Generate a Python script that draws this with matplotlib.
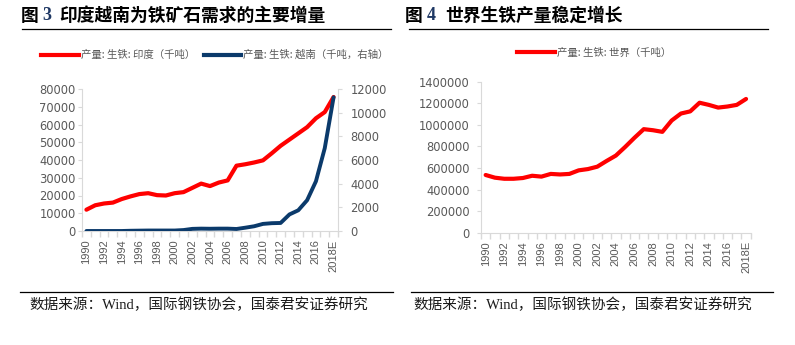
import matplotlib
matplotlib.use('Agg')
import matplotlib.pyplot as plt
from matplotlib.lines import Line2D
from matplotlib.ticker import FuncFormatter
import numpy as np

# ---------------- data ----------------
years = [str(y) for y in range(1990, 2018)] + ['2018E']
india = [12000, 14500, 15500, 16000, 18000, 19500, 20800, 21300, 20200, 20000,
         21300, 21900, 24300, 26700, 25300, 27300, 28500, 36800, 37600, 38600,
         39800, 43800, 48000, 51500, 55000, 58500, 63500, 67000, 75500]
vietnam = [0, 0, 0, 0, 0, 20, 30, 40, 40, 40,
           40, 80, 180, 200, 190, 200, 200, 170, 280, 400,
           600, 660, 680, 1400, 1750, 2600, 4200, 7000, 11300]
world = [535000, 510000, 500000, 500000, 507000, 528000, 520000, 545000, 540000, 545000,
         578000, 590000, 612000, 665000, 715000, 795000, 880000, 960000, 950000, 935000,
         1040000, 1105000, 1125000, 1205000, 1185000, 1160000, 1170000, 1185000, 1240000]

title_left = ['图', '3', '印度越南为铁矿石需求的主要增量']
title_right = ['图', '4', '世界生铁产量稳定增长']
leg_india = '产量: 生铁: 印度（千吨）'
leg_vietnam = '产量: 生铁: 越南（千吨，右轴）'
leg_world = '产量: 生铁: 世界（千吨）'
source = '数据来源：Wind，国际钢铁协会，国泰君安证券研究'

W, H = 795, 345
def fx(px): return px / W
def fy(py): return 1 - py / H

CJK = ['Noto Sans CJK SC', 'DejaVu Sans']
GREY = '#595959'
AXC = '#D9D9D9'
RED = '#FF0000'
NAVY = '#0B3A6B'
plain = FuncFormatter(lambda v, p: f'{int(round(v))}')

fig = plt.figure(figsize=(W / 100, H / 100), dpi=100)
x = np.arange(len(years))

def style_cat_axis(ax, pad):
    ax.set_xlim(-0.5, len(years) - 0.5)
    ax.set_xticks(x[::2])
    ax.set_xticklabels(years[::2], rotation=90, fontsize=8,
                       family='Liberation Sans', color=GREY)
    ax.set_xticks(np.arange(-0.5, len(years)), minor=True)
    ax.tick_params(axis='x', which='major', length=0, pad=pad)
    ax.tick_params(axis='x', which='minor', length=4, color=AXC, width=1)
    for s in ['top', 'right', 'left', 'bottom']:
        ax.spines[s].set_visible(False)
    ax.spines['bottom'].set_visible(True)
    ax.spines['bottom'].set_color(AXC)
    ax.spines['left'].set_visible(True)
    ax.spines['left'].set_color(AXC)

# ---------------- left chart ----------------
ax1 = fig.add_axes([fx(82), fy(231), (338 - 82) / W, (231 - 89) / H])
ax1.plot(x, india, color=RED, lw=3.0, solid_joinstyle='round', solid_capstyle='round', zorder=3)
style_cat_axis(ax1, 6)
ax1.set_ylim(0, 80000)
ax1.set_yticks(range(0, 80001, 10000))
ax1.yaxis.set_major_formatter(plain)
ax1.tick_params(axis='y', length=3, color=AXC, labelcolor=GREY, labelsize=8.3, pad=1.5)
ax1.patch.set_alpha(0)

ax2 = ax1.twinx()
ax2.plot(x, vietnam, color=NAVY, lw=2.8, solid_joinstyle='round', solid_capstyle='round', zorder=3)
ax2.set_ylim(0, 12000)
ax2.set_yticks(range(0, 12001, 2000))
ax2.yaxis.set_major_formatter(plain)
ax2.tick_params(axis='y', length=3, color=AXC, labelcolor=GREY, labelsize=8.3, pad=6)
for s in ['top', 'left', 'bottom']:
    ax2.spines[s].set_visible(False)
ax2.spines['right'].set_color(AXC)

h1 = Line2D([], [], color=RED, lw=3.0)
h2 = Line2D([], [], color=NAVY, lw=3.0)
fig.legend([h1, h2], [leg_india, leg_vietnam], loc='center',
           bbox_to_anchor=(fx(215), fy(55)), ncol=2, frameon=False,
           prop={'family': CJK, 'size': 7.5}, labelcolor=GREY,
           handlelength=3.6, handletextpad=0.2, columnspacing=0.8,
           borderaxespad=0, borderpad=0)

# ---------------- right chart ----------------
ax3 = fig.add_axes([fx(481), fy(232.7), (750.7 - 481) / W, (232.7 - 81.7) / H])
ax3.plot(x, world, color=RED, lw=3.0, solid_joinstyle='round', solid_capstyle='round', zorder=3)
style_cat_axis(ax3, 6)
ax3.set_ylim(0, 1400000)
ax3.set_yticks(range(0, 1400001, 200000))
ax3.yaxis.set_major_formatter(plain)
ax3.tick_params(axis='y', length=3, color=AXC, labelcolor=GREY, labelsize=8.3, pad=5)

h3 = Line2D([], [], color=RED, lw=3.0)
fig.legend([h3], [leg_world], loc='center',
           bbox_to_anchor=(fx(594), fy(52.7)), frameon=False,
           prop={'family': CJK, 'size': 7.5}, labelcolor=GREY,
           handlelength=3.6, handletextpad=0.2,
           borderaxespad=0, borderpad=0)

# ---------------- titles ----------------
def draw_title(parts, xs):
    fig.text(fx(xs[0]), fy(16), parts[0], family=CJK, weight='bold', fontsize=12.8,
             va='center', ha='left', color='black')
    fig.text(fx(xs[1]), fy(16), parts[1], family=['Liberation Serif', 'DejaVu Serif'],
             weight='bold', fontsize=13, va='center', ha='left', color='#1F3864')
    fig.text(fx(xs[2]), fy(16), parts[2], family=CJK, weight='bold', fontsize=12.8,
             va='center', ha='left', color='black')

draw_title(title_left, [21, 42, 59])
draw_title(title_right, [405, 427, 445])

fig.add_artist(Line2D([fx(22), fx(391)], [fy(28.5)] * 2, color='black', lw=0.9))
fig.add_artist(Line2D([fx(409), fx(768)], [fy(28.5)] * 2, color='black', lw=0.9))

# ---------------- sources ----------------
fig.add_artist(Line2D([fx(20), fx(393)], [fy(292)] * 2, color='black', lw=0.9))
fig.add_artist(Line2D([fx(411), fx(773)], [fy(292)] * 2, color='black', lw=0.9))
fig.text(fx(29), fy(305), source, family=['Liberation Serif', 'Noto Sans CJK SC'],
         fontsize=10.5, va='center', ha='left', color='#1a1a1a')
fig.text(fx(413), fy(305), source, family=['Liberation Serif', 'Noto Sans CJK SC'],
         fontsize=10.5, va='center', ha='left', color='#1a1a1a')

fig.savefig('out.png', dpi=100)
